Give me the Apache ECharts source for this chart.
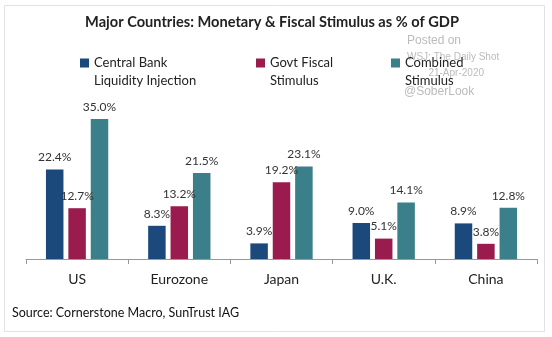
<!DOCTYPE html>
<html>
<head>
<meta charset="utf-8">
<script src="https://cdn.jsdelivr.net/npm/echarts@6/dist/echarts.min.js"></script>
<style>
html,body{margin:0;padding:0;background:#fff;}
#c{width:552px;height:337px;}
</style>
</head>
<body>
<div id="c"></div>
<script>
const categories = ['US', 'Eurozone', 'Japan', 'U.K.', 'China'];
const centralBank = [22.4, 8.3, 3.9, 9.0, 8.9];
const govtFiscal = [12.7, 13.2, 19.2, 5.1, 3.8];
const combined = [35.0, 21.5, 23.1, 14.1, 12.8];
const seriesNames = ['Central Bank\nLiquidity Injection', 'Govt Fiscal\nStimulus', 'Combined\nStimulus'];
const colors = ['#1c497c', '#9a1c4f', '#3a7f89'];

const FONT = 'Lato';
const chart = echarts.init(document.getElementById('c'), null, {renderer: 'canvas'});

// square icon in the upper part of a tall (invisible) box so it lines up with the first text line
const ICON = 'path://M0,0h9v9h-9z M0,26.99h0.01v0.01h-0.01z';

function legendAt(idx, left) {
  return {
    data: [seriesNames[idx]],
    left: left, top: 54,
    padding: 0,
    itemWidth: 9, itemHeight: 27,
    icon: ICON,
    itemGap: 4,
    selectedMode: false,
    textStyle: {fontFamily: FONT, fontSize: 13, color: '#222', lineHeight: 18}
  };
}

function barSeries(idx, data) {
  return {
    name: seriesNames[idx],
    type: 'bar',
    data: data,
    barWidth: 17.5,
    barGap: '28%',
    itemStyle: {color: colors[idx]},
    label: {
      show: true, position: 'top', distance: 6,
      formatter: p => p.value.toFixed(1) + '%',
      fontFamily: FONT, fontSize: 12, color: '#333'
    }
  };
}

chart.setOption({
  animation: false,
  backgroundColor: '#fff',
  title: {
    text: 'Major Countries: Monetary & Fiscal Stimulus as % of GDP',
    left: 267, textAlign: 'center', top: 10,
    textStyle: {fontFamily: FONT, fontSize: 14.6, fontWeight: 'bold', color: '#222'}
  },
  legend: [legendAt(0, 80), legendAt(1, 256), legendAt(2, 391)],
  grid: {left: 26, right: 15, top: 99, bottom: 78},
  xAxis: {
    type: 'category',
    data: categories,
    axisLine: {lineStyle: {color: '#999', width: 1}},
    axisTick: {show: true, length: 5, lineStyle: {color: '#999'}},
    axisLabel: {fontFamily: FONT, fontSize: 14, color: '#222', margin: 13}
  },
  yAxis: {
    type: 'value', min: 0, max: 40, show: false,
    splitLine: {show: false}
  },
  series: [barSeries(0, centralBank), barSeries(1, govtFiscal), barSeries(2, combined)],
  graphic: [
    {type: 'rect', shape: {x: 4.5, y: 5.5, width: 540, height: 326}, style: {fill: 'none', stroke: '#e2e2e2', lineWidth: 1}, z: -1},
    {type: 'text', left: 12, top: 306, style: {text: 'Source: Cornerstone Macro, SunTrust IAG', fontFamily: FONT, fontSize: 12.5, fill: '#111'}},
    {type: 'text', left: 407, top: 35, style: {text: 'Posted on', fontFamily: 'Liberation Sans', fontSize: 12, fill: '#bbb'}},
    {type: 'text', left: 407, top: 52, style: {text: 'WSJ: The Daily Shot', fontFamily: 'Liberation Sans', fontSize: 10, fill: '#bbb'}},
    {type: 'text', right: 68, top: 68, style: {text: '21-Apr-2020', fontFamily: 'Liberation Sans', fontSize: 10, fill: '#bbb'}},
    {type: 'text', left: 404, top: 86, style: {text: '@SoberLook', fontFamily: 'Liberation Sans', fontSize: 12, fill: '#bbb'}}
  ]
});
</script>
</body>
</html>
